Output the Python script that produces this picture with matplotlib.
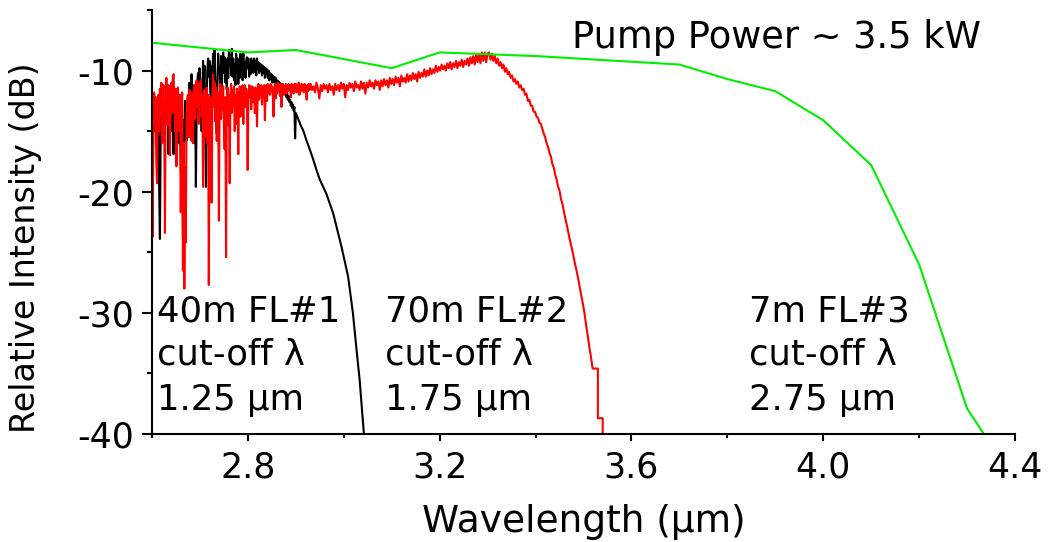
import numpy as np
import matplotlib as mpl
mpl.use('Agg')
from matplotlib import pyplot as plt

plt.rcParams.update({
    'font.family': 'DejaVu Sans',
    'font.size': 25,
    'axes.unicode_minus': False,
    'axes.linewidth': 1.5,
})

# ---- data ----
# FL#3, 7 m fibre (green, coarse points)
fl3_wl = [2.6, 2.8, 2.9, 3.1, 3.2, 3.4, 3.7, 3.8, 3.9, 4.0, 4.1, 4.2, 4.3, 4.335]
fl3_db = [-7.7, -8.5, -8.3, -9.8, -8.5, -8.8, -9.5, -10.7, -11.7, -14.1, -17.8, -26.0, -37.9, -40.0]

# FL#1, 40 m fibre (black): noisy part sampled every 0.0015 um from 2.600 to 2.900
fl1_db_noisy = [
    -13.0, -19.6, -12.8, -14.0, -15.0, -13.2, -12.6, -16.0, -13.5, -14.2,
    -20.0, -23.9, -16.0, -13.8, -12.6, -15.0, -13.0, -12.4, -14.5, -13.0,
    -12.5, -14.0, -13.0, -16.9, -13.5, -12.4, -12.0, -13.8, -15.0, -13.0,
    -16.9, -13.2, -12.6, -13.5, -12.4, -13.0, -14.0, -12.8, -16.0, -13.5,
    -18.0, -20.0, -14.0, -23.7, -19.0, -15.0, -12.5, -13.4, -15.8, -13.0,
    -12.0, -12.8, -11.0, -12.2, -11.5, -10.3, -12.5, -11.2, -13.6, -16.0,
    -12.2, -19.6, -14.0, -11.0, -10.2, -12.5, -9.8, -10.8, -12.0, -15.0,
    -12.0, -9.2, -11.5, -9.6, -14.5, -19.6, -12.0, -10.0, -9.0, -10.5,
    -9.2, -11.8, -12.5, -9.6, -10.0, -8.6, -11.0, -8.3, -10.8, -12.8,
    -15.2, -11.0, -8.6, -10.2, -9.8, -11.5, -8.8, -12.0, -9.5, -8.5,
    -10.2, -8.9, -11.0, -9.4, -11.6, -9.0, -10.6, -8.3, -9.6, -8.7,
    -10.4, -8.2, -10.5, -9.0, -10.8, -9.5, -11.2, -8.6, -10.2, -9.0,
    -11.1, -9.4, -10.6, -8.6, -10.0, -9.0, -10.8, -8.6, -10.2, -9.3,
    -10.6, -9.2, -8.9, -9.8, -9.0, -10.5, -9.4, -10.3, -9.0, -10.0,
    -9.2, -10.2, -9.0, -9.8, -9.2, -10.4, -9.0, -9.9, -9.3, -10.2,
    -9.4, -10.0, -9.5, -10.4, -9.6, -10.2, -9.7, -10.6, -9.8, -10.3,
    -9.9, -10.6, -10.0, -10.8, -10.2, -10.7, -10.3, -11.0, -10.4, -10.9,
    -10.5, -11.2, -10.6, -11.3, -10.8, -11.4, -10.9, -11.5, -11.0, -11.6,
    -11.1, -11.7, -11.3, -11.9, -11.6, -12.0, -11.7, -12.2, -11.9, -12.4,
    -12.1, -12.6, -12.4, -12.9, -12.6, -13.1, -12.8, -13.3, -13.0, -15.6,
    -13.5]
fl1_wl_tail = [2.905, 2.910, 2.916, 2.922, 2.929, 2.936, 2.943, 2.950, 2.964, 2.978,
               2.995, 3.009, 3.019, 3.026, 3.033, 3.042]
fl1_db_tail = [-14.0, -14.5, -15.0, -15.75, -16.5, -17.3, -18.2, -19.0, -20.2, -21.8,
               -24.5, -27.0, -30.0, -32.8, -35.5, -40.0]

# FL#2, 70 m fibre (red): noisy part sampled every 0.0015 um from 2.600 to 2.930
fl2_db_noisy = [
    -11.6, -23.7, -13.5, -11.8, -14.5, -12.2, -17.5, -19.3, -13.0, -12.0,
    -15.0, -11.5, -13.2, -11.0, -16.0, -12.4, -11.2, -14.0, -23.4, -13.0,
    -10.6, -12.5, -14.5, -11.2, -13.0, -17.0, -12.0, -11.0, -13.5, -10.5,
    -10.3, -12.8, -15.0, -11.5, -17.9, -12.3, -11.4, -13.8, -15.0, -12.0,
    -21.7, -13.0, -11.8, -26.5, -16.0, -28.0, -18.0, -24.2, -14.0, -12.5,
    -12.0, -15.5, -11.6, -12.5, -14.2, -15.8, -11.8, -16.0, -12.6, -11.2,
    -14.0, -12.0, -10.8, -13.0, -11.5, -14.4, -11.0, -12.6, -10.8, -13.8,
    -12.0, -19.6, -13.5, -11.6, -15.5, -12.5, -11.4, -16.0, -12.0, -27.7,
    -15.0, -12.2, -13.0, -20.9, -12.0, -10.3, -13.0, -11.0, -14.2, -11.4,
    -15.8, -12.5, -11.8, -22.4, -12.8, -11.1, -14.0, -11.5, -13.2, -11.3,
    -14.5, -16.5, -12.2, -25.4, -13.0, -11.4, -14.5, -12.0, -19.3, -12.0,
    -11.1, -13.5, -11.6, -12.8, -11.3, -15.0, -12.0, -14.4, -11.5, -12.6,
    -16.9, -12.2, -11.3, -13.8, -11.4, -12.5, -11.2, -14.4, -12.0, -11.2,
    -13.0, -11.5, -12.4, -18.2, -12.5, -11.2, -12.2, -11.3, -13.2, -11.3,
    -12.6, -11.4, -12.0, -13.5, -11.4, -12.0, -14.6, -11.8, -11.1, -12.4,
    -11.3, -12.0, -11.2, -12.8, -11.4, -11.9, -11.2, -14.1, -11.6, -11.2,
    -12.5, -11.1, -11.8, -11.3, -12.0, -11.1, -11.7, -11.3, -12.2, -13.8,
    -11.5, -11.1, -12.3, -11.2, -11.9, -11.0, -11.6, -11.2, -12.1, -11.1,
    -13.0, -11.4, -11.1, -12.0, -11.3, -11.8, -11.1, -11.9, -11.2, -11.7,
    -11.1, -11.6, -11.2, -12.2, -11.1, -11.7, -11.2, -11.9, -11.1, -11.6,
    -11.1, -11.8, -11.2, -11.6, -11.0, -12.0, -11.2, -11.7, -11.1, -11.6,
    -11.2, -11.8, -11.1, -11.6, -11.3, -12.4, -11.2, -11.7, -11.1, -11.6,
    -11.3]
# rising plateau, sampled every 0.003 um from 2.931 to 3.300
fl2_db_mid = [
    -11.1, -11.6, -11.3, -11.8, -11.0, -11.5, -12.3, -11.2, -11.7, -11.1,
    -11.5, -11.2, -11.8, -11.1, -11.6, -11.3, -12.0, -11.1, -11.6, -11.2,
    -11.7, -11.0, -11.5, -11.1, -12.2, -11.2, -11.6, -11.0, -11.4, -11.1,
    -11.7, -10.9, -11.4, -11.2, -11.6, -10.9, -11.5, -11.0, -11.9, -11.0,
    -11.4, -10.8, -11.3, -11.0, -11.5, -10.8, -11.2, -10.9, -11.6, -10.8,
    -11.3, -10.7, -11.2, -10.8, -11.4, -10.6, -11.1, -10.7, -11.2, -10.5,
    -11.0, -10.6, -11.3, -10.4, -10.9, -10.6, -11.0, -10.3, -10.9, -10.4,
    -10.8, -10.2, -10.7, -10.3, -10.9, -10.1, -10.6, -10.2, -10.5, -9.9,
    -10.5, -10.0, -10.4, -9.8, -10.3, -9.9, -10.2, -9.6, -10.1, -9.7,
    -10.0, -9.5, -9.9, -9.6, -10.0, -9.4, -9.8, -9.3, -9.9, -9.4,
    -9.7, -9.2, -9.8, -9.3, -9.6, -9.1, -9.7, -9.2, -9.5, -9.0,
    -9.6, -8.9, -9.4, -8.8, -9.5, -8.7, -9.3, -8.6, -9.4, -8.5,
    -9.2, -8.5, -9.3, -8.6]
# cut-off edge
fl2_wl_edge = [3.303, 3.306, 3.309, 3.312, 3.315, 3.318, 3.321, 3.324, 3.327, 3.330,
               3.333, 3.336, 3.339, 3.342, 3.345, 3.348, 3.351, 3.354, 3.357, 3.360,
               3.363, 3.366, 3.369, 3.372, 3.375, 3.378, 3.381, 3.384, 3.387, 3.390,
               3.393, 3.396, 3.399, 3.402, 3.405, 3.408, 3.411, 3.414, 3.417, 3.420,
               3.423, 3.426, 3.429, 3.432, 3.435, 3.438, 3.441, 3.444, 3.447, 3.450,
               3.453, 3.456, 3.459, 3.462, 3.466, 3.470, 3.474, 3.478, 3.482, 3.486,
               3.490, 3.494, 3.498, 3.502, 3.506, 3.509, 3.512, 3.515, 3.519, 3.530,
               3.530, 3.540, 3.540]
fl2_db_edge = [-8.5, -9.1, -8.6, -9.2, -8.8, -9.4, -9.0, -9.6, -9.3, -9.8,
               -9.5, -10.1, -9.8, -10.3, -10.1, -10.6, -10.4, -10.9, -10.7, -11.1,
               -10.9, -11.4, -11.2, -11.6, -11.5, -12.0, -11.9, -12.5, -12.4, -12.9,
               -12.9, -13.4, -13.4, -13.8, -13.9, -14.3, -14.4, -14.8, -15.2, -15.5,
               -16.0, -16.3, -16.8, -17.1, -17.7, -18.0, -18.6, -19.0, -19.6, -19.9,
               -20.6, -21.0, -21.6, -22.2, -22.9, -23.7, -24.4, -25.1, -25.9, -26.6,
               -27.4, -28.3, -29.1, -30.0, -31.2, -31.9, -32.8, -33.5, -34.6, -34.6,
               -38.7, -38.7, -40.5]

fl1_wl = np.concatenate([np.linspace(2.600, 2.900, len(fl1_db_noisy)), fl1_wl_tail])
fl1_db = np.concatenate([fl1_db_noisy, fl1_db_tail])
fl2_wl = np.concatenate([np.linspace(2.600, 2.930, len(fl2_db_noisy)),
                         np.linspace(2.931, 3.300, len(fl2_db_mid)), fl2_wl_edge])
fl2_db = np.concatenate([fl2_db_noisy, fl2_db_mid, fl2_db_edge])

x_major = [2.8, 3.2, 3.6, 4.0, 4.4]
x_minor = [2.6, 3.0, 3.4, 3.8, 4.2]
y_major = [-10, -20, -30, -40]
y_minor = [-5, -15, -25, -35]

# ---- figure ----
fig = plt.figure(figsize=(10.49, 5.42), dpi=100)
ax = fig.add_axes([0.1449, 0.1993, 0.8227, 0.7822])

ax.plot(fl1_wl, fl1_db, color='black', lw=1.5)
ax.plot(fl2_wl, fl2_db, color='#ff0000', lw=1.5)
ax.plot(fl3_wl, fl3_db, color='#00ee00', lw=1.5)

ax.set_xlim(2.6, 4.4)
ax.set_ylim(-40, -5)
ax.spines['top'].set_visible(False)
ax.spines['right'].set_visible(False)
ax.set_xticks(x_major)
ax.set_xticks(x_minor, minor=True)
ax.set_xticklabels(['%.1f' % v for v in x_major])
ax.set_yticks(y_major)
ax.set_yticks(y_minor, minor=True)
ax.tick_params(axis='x', which='major', length=5, width=1.5, pad=7)
ax.tick_params(axis='x', which='minor', length=3, width=1.5)
ax.tick_params(axis='y', which='major', length=7, width=1.5, pad=6)
ax.tick_params(axis='y', which='minor', length=3.6, width=1.5)

ax.set_xlabel('Wavelength (\u03bcm)', fontsize=27)
ax.set_ylabel('Relative Intensity (dB)', fontsize=24)
ax.xaxis.set_label_coords(0.5, -0.165)
ax.xaxis.label.set_va('top')
ax.yaxis.set_label_coords(-0.128, 0.44)

ax.text(3.477, -8.1, 'Pump Power ~ 3.5 kW', va='baseline', ha='left', fontsize=26.5)

labels = [(2.610, ['40m FL#1', 'cut-off \u03bb', '1.25 \u03bcm']),
          (3.085, ['70m FL#2', 'cut-off \u03bb', '1.75 \u03bcm']),
          (3.846, ['7m FL#3', 'cut-off \u03bb', '2.75 \u03bcm'])]
for xpos, lines in labels:
    for yb, s in zip([-30.75, -34.3, -38.0], lines):
        ax.text(xpos, yb, s, va='baseline', ha='left', fontsize=25.5)

fig.savefig('out.png', dpi=100)
